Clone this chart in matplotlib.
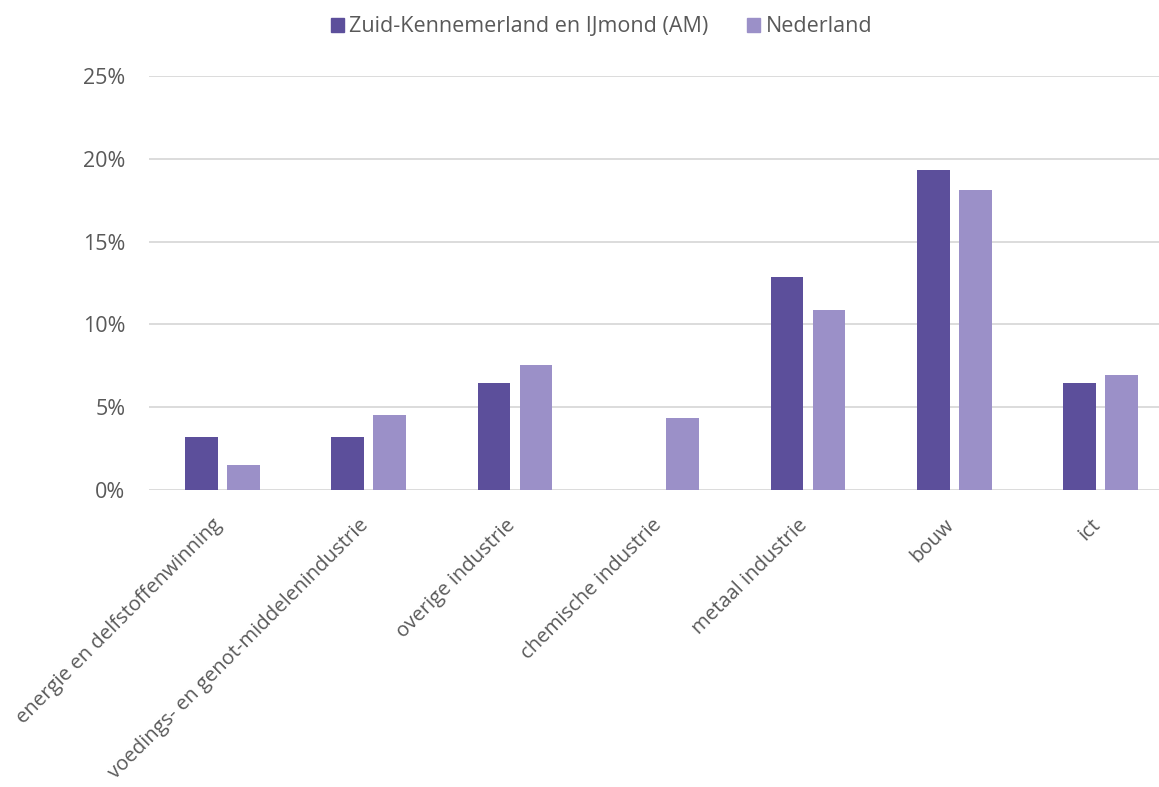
import numpy as np
import matplotlib.pyplot as plt
import matplotlib.transforms as mtransforms
from matplotlib.patches import Patch

# Gegevens (aflezen uit de grafiek)
categories = ["energie en delfstoffenwinning", "voedings- en genot-middelenindustrie",
              "overige industrie", "chemische industrie", "metaal industrie", "bouw", "ict"]
am = [3.2, 3.2, 6.45, 0.0, 12.85, 19.3, 6.45]
nl = [1.5, 4.5, 7.55, 4.35, 10.85, 18.1, 6.95]
series_names = ["Zuid-Kennemerland en IJmond (AM)", "Nederland"]

c_am = "#5C4F9B"
c_nl = "#9B90C8"
grey = "#595959"

plt.rcParams['font.family'] = ['Open Sans', 'DejaVu Sans']

fig = plt.figure(figsize=(11.59, 7.87), dpi=100)
ax = fig.add_axes([149 / 1159, 297 / 787, 1025 / 1159, 414 / 787])

x = np.arange(len(categories))
w = 0.223
gap = 0.064
ax.bar(x - (w + gap) / 2, am, w, color=c_am, zorder=3)
ax.bar(x + (w + gap) / 2, nl, w, color=c_nl, zorder=3)

ax.set_xlim(-0.5, len(categories) - 0.5)
ax.set_ylim(0, 25)
ax.set_yticks(np.arange(0, 26, 5))
ax.set_yticklabels([f"{v}%" for v in range(0, 26, 5)])
ax.grid(axis='y', color="#D9D9D9", linewidth=1.3, zorder=0)
for s in ax.spines.values():
    s.set_visible(False)
ax.tick_params(axis='y', length=0, pad=17, labelsize=15.5, labelcolor=grey)
ax.tick_params(axis='x', length=0, pad=18, labelsize=14.6, labelcolor=grey)
ax.set_xticks(x)
ax.set_xticklabels(categories, rotation=45, ha='right', va='top', rotation_mode='anchor')
shift = mtransforms.ScaledTranslation(-10 / 100, 0, fig.dpi_scale_trans)
for lbl in ax.get_xticklabels():
    lbl.set_transform(lbl.get_transform() + shift)

handles = [Patch(color=c_am), Patch(color=c_nl)]
fig.legend(handles, series_names, loc='center', bbox_to_anchor=(0.519, 0.966), ncol=2,
           frameon=False, fontsize=15.5, labelcolor=grey, handlelength=0.6, handleheight=0.6,
           handletextpad=0.25, columnspacing=1.8)

fig.savefig("out.png", dpi=100)
